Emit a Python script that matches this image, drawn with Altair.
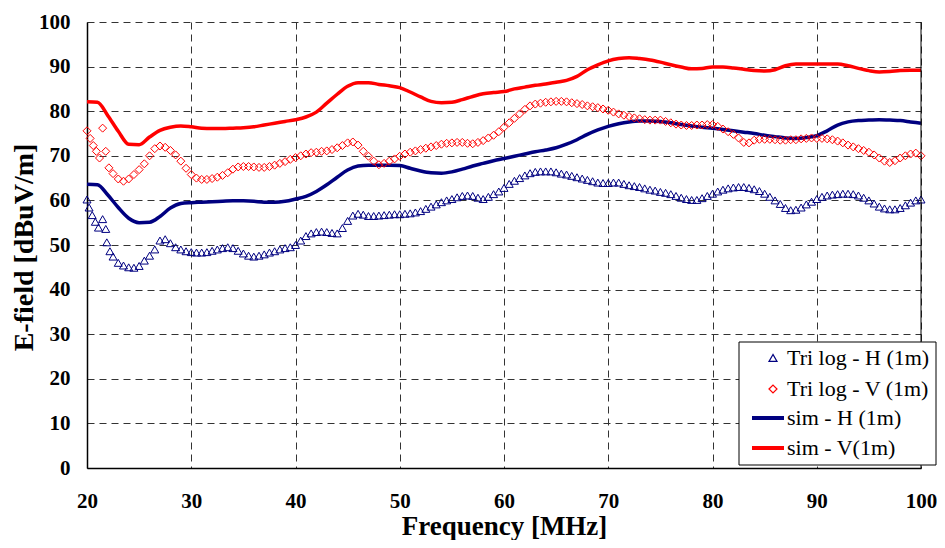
import altair as alt
import pandas as pd

# ---------------- data ----------------
# Tri log - V (1m) : diamonds
v_early_f = [20.0, 20.3, 20.6, 20.9, 21.2, 21.5, 21.8, 22.1]
v_early = [75.6, 73.9, 72.3, 71.0, 69.5, 76.2, 71.0, 67.3]
v_start = 22.5
v_step = 0.5
v_vals = [
    66.0, 64.8, 64.3, 64.8, 65.8,
    66.9, 68.2, 70.0, 71.6, 72.2, 71.9, 71.2, 70.2, 68.8, 67.2,
    65.8, 65.0, 64.7, 64.7, 64.9, 65.2, 65.6, 66.2, 67.0, 67.5,
    67.6, 67.6, 67.5, 67.4, 67.4, 67.6, 67.9, 68.3, 68.7, 69.2,
    69.6, 70.0, 70.4, 70.7, 70.8, 71.0, 71.1, 71.4, 71.8, 72.3,
    72.9, 73.1, 72.4, 71.0, 69.9, 68.8, 68.0, 68.3, 68.8, 69.3,
    69.9, 70.4, 70.8, 71.1, 71.4, 71.7, 72.0, 72.3, 72.6, 72.8,
    72.9, 73.0, 73.0, 72.8, 72.7, 73.0, 73.4, 74.0, 74.6, 75.4,
    76.4, 77.4, 78.4, 79.4, 80.4, 81.2, 81.6, 81.8, 82.0, 82.1,
    82.2, 82.2, 82.1, 81.9, 81.7, 81.5, 81.2, 81.0, 80.8, 80.5,
    80.2, 79.8, 79.4, 79.1, 78.8, 78.5, 78.3, 78.1, 78.0, 78.0,
    78.0, 77.7, 77.4, 77.1, 76.9, 76.8, 76.8, 76.9, 76.9, 77.0,
    77.0, 76.6, 76.0, 75.4, 74.8, 74.0, 73.0, 72.9, 73.5, 73.7,
    73.7, 73.7, 73.6, 73.5, 73.5, 73.6, 73.6, 73.8, 73.9, 74.0,
    73.9, 73.9, 73.8, 73.6, 73.3, 72.9, 72.4, 72.0, 71.6, 71.2,
    70.8, 70.2, 69.5, 68.8, 68.5, 68.9, 69.5, 70.0, 70.4, 70.6,
    70.0,
]

# Tri log - H (1m) : triangles
h_early_f = [20.0, 20.2, 20.5, 20.8, 21.1, 21.5, 21.8, 21.9, 22.2]
h_early = [60.2, 58.4, 56.7, 55.2, 53.9, 55.8, 53.6, 50.6, 48.6]
h_start = 22.5
h_step = 0.5
h_vals = [
    47.4, 46.0, 45.4, 45.0, 44.9,
    45.3, 46.5, 47.6, 49.0, 51.0, 51.3, 50.4, 49.5, 49.0, 48.6,
    48.4, 48.3, 48.3, 48.4, 48.7, 49.0, 49.3, 49.5, 49.3, 48.7,
    48.1, 47.6, 47.4, 47.6, 47.9, 48.3, 48.6, 49.0, 49.3, 49.5,
    50.0, 51.0, 52.0, 52.6, 52.9, 53.0, 52.9, 52.7, 52.6, 53.8,
    55.4, 56.6, 57.0, 56.8, 56.5, 56.5, 56.6, 56.7, 56.8, 56.9,
    56.9, 57.0, 57.1, 57.3, 57.6, 58.1, 58.6, 59.1, 59.6, 60.0,
    60.3, 60.7, 61.0, 61.1, 61.0, 60.6, 60.3, 60.8, 61.4, 62.0,
    62.8, 63.7, 64.4, 65.0, 65.6, 66.1, 66.4, 66.5, 66.5, 66.5,
    66.3, 66.0, 65.8, 65.5, 65.2, 64.9, 64.6, 64.3, 64.0, 63.9,
    63.9, 64.0, 64.0, 63.7, 63.4, 63.2, 63.0, 62.7, 62.4, 62.2,
    61.9, 61.7, 61.4, 61.0, 60.6, 60.3, 60.1, 60.1, 60.5, 61.0,
    61.5, 62.0, 62.4, 62.7, 62.9, 63.0, 63.0, 62.8, 62.5, 62.1,
    61.5, 60.8, 60.0, 59.2, 58.3, 57.8, 57.9, 58.4, 59.1, 59.7,
    60.3, 60.8, 61.1, 61.3, 61.4, 61.5, 61.5, 61.4, 61.1, 60.6,
    60.0, 59.3, 58.6, 58.2, 58.0, 58.0, 58.3, 58.9, 59.5, 60.0,
    60.2,
]

# simulations, 1 MHz steps from 20 to 100
sim_start = 20
sim_h = [
    63.6, 63.5, 61.2, 58.4, 56.0, 55.0, 55.1, 56.4, 58.3, 59.3,
    59.5, 59.6, 59.7, 59.8, 59.9, 59.9, 59.8, 59.6, 59.6, 59.8,
    60.3, 60.9, 62.0, 63.5, 65.2, 66.8, 67.7, 67.9, 67.9, 67.9,
    67.8, 67.2, 66.6, 66.2, 66.1, 66.4, 67.0, 67.7, 68.3, 68.9,
    69.4, 69.9, 70.4, 70.9, 71.3, 71.8, 72.6, 73.6, 74.8, 75.8,
    76.6, 77.2, 77.6, 77.8, 77.8, 77.7, 77.4, 77.0, 76.7, 76.4,
    76.2, 75.9, 75.6, 75.3, 75.0, 74.6, 74.3, 74.0, 73.9, 74.1,
    74.5, 75.6, 76.9, 77.6, 77.9, 78.0, 78.1, 78.0, 77.9, 77.6,
    77.3,
]
sim_v = [
    82.1, 82.0, 79.0, 75.5, 72.6, 72.5, 74.2, 75.7, 76.4, 76.7,
    76.5, 76.2, 76.1, 76.1, 76.2, 76.3, 76.5, 76.9, 77.3, 77.7,
    78.1, 78.7, 79.8, 81.8, 83.8, 85.6, 86.4, 86.4, 86.0, 85.7,
    85.3, 84.3, 83.2, 82.2, 81.9, 82.0, 82.6, 83.3, 83.9, 84.2,
    84.4, 85.0, 85.4, 85.8, 86.1, 86.5, 86.9, 87.8, 89.3, 90.4,
    91.3, 91.8, 92.0, 91.8, 91.5, 91.0, 90.4, 89.9, 89.5, 89.6,
    89.9, 89.9, 89.7, 89.4, 89.1, 89.0, 89.3, 90.2, 90.6, 90.6,
    90.6, 90.6, 90.6, 90.2, 89.6, 89.1, 88.8, 88.9, 89.1, 89.2,
    89.2,
]

marker_names = ["Tri log - H (1m)", "Tri log - V (1m)"]
line_names = ["sim - H (1m)", "sim - V(1m)"]
navy = "#000080"
red = "#FF0000"
x_ticks = [20, 30, 40, 50, 60, 70, 80, 90, 100]
y_ticks = [0, 10, 20, 30, 40, 50, 60, 70, 80, 90, 100]

# ---------------- tables ----------------
rows = []
for f, v in zip(h_early_f, h_early):
    rows.append({"f": f, "v": v, "series": marker_names[0]})
for i, v in enumerate(h_vals):
    rows.append({"f": round(h_start + i * h_step, 2), "v": v, "series": marker_names[0]})
for f, v in zip(v_early_f, v_early):
    rows.append({"f": f, "v": v, "series": marker_names[1]})
for i, v in enumerate(v_vals):
    rows.append({"f": round(v_start + i * v_step, 2), "v": v, "series": marker_names[1]})
pts = pd.DataFrame(rows)

lrows = []
for i, v in enumerate(sim_h):
    lrows.append({"f": sim_start + i, "v": v, "series": line_names[0]})
for i, v in enumerate(sim_v):
    lrows.append({"f": sim_start + i, "v": v, "series": line_names[1]})
lines = pd.DataFrame(lrows)

font = "Liberation Serif"

x_enc = alt.X(
    "f:Q",
    scale=alt.Scale(domain=[20, 100], nice=False, zero=False),
    axis=alt.Axis(
        title="Frequency [MHz]", values=x_ticks, ticks=False, labelPadding=22,
        labelFlush=False,
        titleY=66, titleBaseline="alphabetic", titleFontSize=27,
    ),
)
y_enc = alt.Y(
    "v:Q",
    scale=alt.Scale(domain=[0, 100], nice=False),
    axis=alt.Axis(
        title="E-field [dBuV/m]", values=y_ticks, ticks=False, labelPadding=17,
        labelFlush=False,
        titleX=-55, titleY=225, titleAlign="center", titleBaseline="alphabetic",
        titleAngle=270,
    ),
)

line_layer = alt.Chart(lines).mark_line(strokeWidth=3.5, interpolate="monotone").encode(
    x=x_enc,
    y=y_enc,
    stroke=alt.Stroke(
        "series:N",
        scale=alt.Scale(domain=line_names, range=[navy, red]),
        legend=alt.Legend(
            title=None, orient="none", legendX=663, legendY=385,
            symbolType="stroke", symbolSize=1024, symbolStrokeWidth=4,
            labelFont=font, labelFontSize=22, labelColor="black",
            labelOffset=1, rowPadding=8, padding=0, labelLimit=300,
            clipHeight=22,
        ),
    ),
    detail="series:N",
)

pt_legend = alt.Legend(
    title=None, orient="none", legendX=675, legendY=325,
    symbolSize=64, symbolStrokeWidth=1.2,
    labelFont=font, labelFontSize=22, labelColor="black",
    labelOffset=3, rowPadding=9, padding=0, labelLimit=300,
)
point_layer = alt.Chart(pts).mark_point(filled=False, size=64, strokeWidth=1.0, opacity=1).encode(
    x=x_enc,
    y=y_enc,
    color=alt.Color("series:N", scale=alt.Scale(domain=marker_names, range=[navy, red]), legend=pt_legend),
    shape=alt.Shape("series:N", scale=alt.Scale(domain=marker_names, range=["triangle-up", "diamond"]), legend=pt_legend),
)

right_border = alt.Chart(alt.Data(values=[{}])).mark_rule(color="black", strokeWidth=1).encode(
    x=alt.datum(100)
)

legend_box = alt.Chart(alt.Data(values=[{}])).mark_rect(
    fill="white", stroke="black", strokeWidth=1
).encode(
    x=alt.value(652), x2=alt.value(849), y=alt.value(320), y2=alt.value(443)
)

chart = alt.layer(line_layer, point_layer, right_border, legend_box).properties(
    width=834, height=446,
    autosize=alt.AutoSizeParams(type="none"),
    padding={"left": 79, "top": 14, "right": 16, "bottom": 72},
).configure_view(
    stroke=None
).configure_axis(
    labelFont=font, labelFontSize=21, labelFontWeight="bold", labelColor="black",
    titleFont=font, titleFontSize=28, titleFontWeight="bold", titleColor="black",
    domainColor="black", domainWidth=1.5,
    gridColor="#333333", gridDash=[7, 5], gridWidth=1, gridOpacity=1,
)

chart.save("out.html", embed_options={"renderer": "svg", "actions": False})
